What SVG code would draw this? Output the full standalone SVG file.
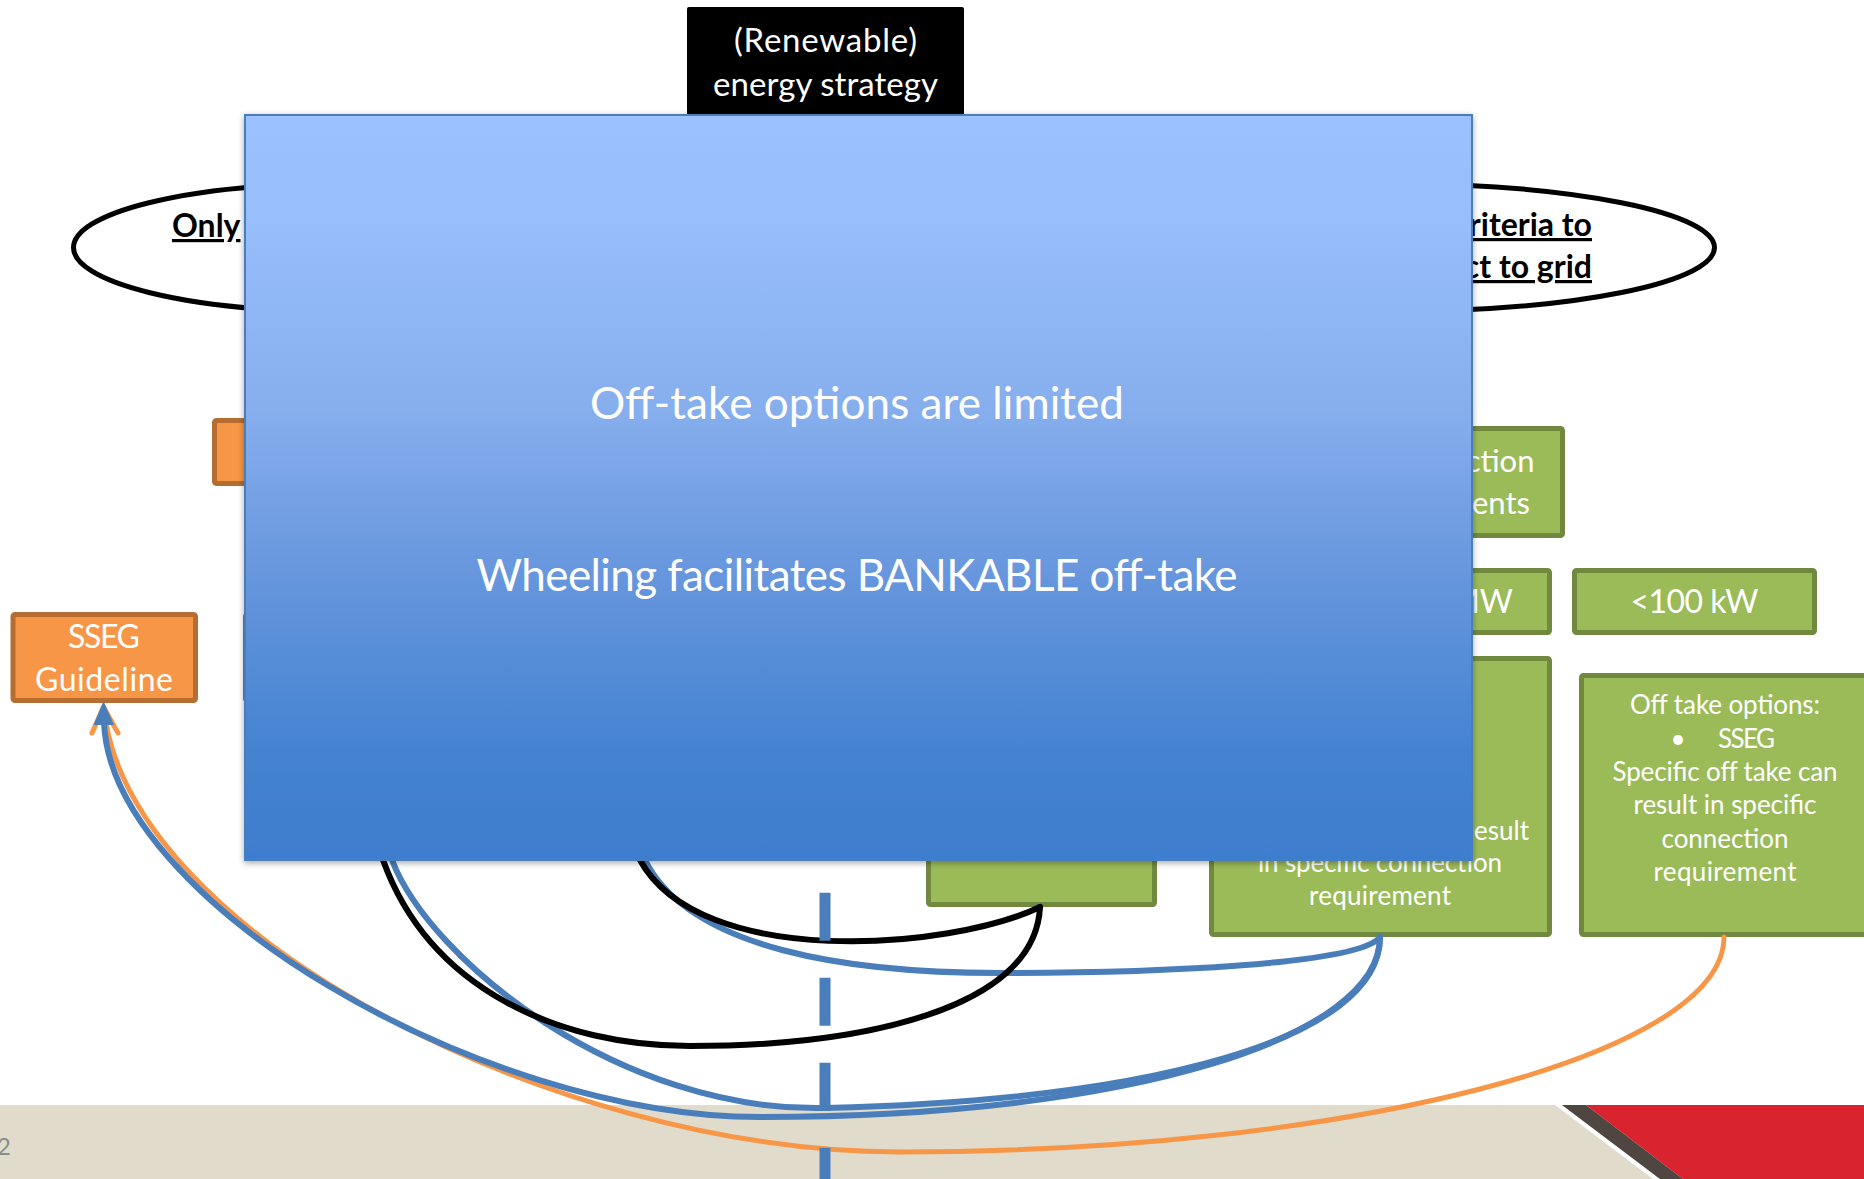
<svg xmlns="http://www.w3.org/2000/svg" width="1864" height="1179" viewBox="0 0 1864 1179">
<defs>
  <linearGradient id="blueGrad" x1="0" y1="0" x2="0" y2="1">
    <stop offset="0" stop-color="#9BC1FE"/>
    <stop offset="0.15" stop-color="#97BDFB"/>
    <stop offset="0.4" stop-color="#86AEED"/>
    <stop offset="0.62" stop-color="#6696DD"/>
    <stop offset="0.85" stop-color="#4583D1"/>
    <stop offset="1" stop-color="#3E7DCD"/>
  </linearGradient>
  <filter id="shadow" x="-5%" y="-5%" width="110%" height="110%">
    <feDropShadow dx="0" dy="2" stdDeviation="3" flood-color="#000" flood-opacity="0.35"/>
  </filter>
</defs>
<style>
  text { font-family: Lato, "Liberation Sans", sans-serif; }
  .w { fill: #FFFFFF; }
  .green { fill: #9BBB59; stroke: #71893F; stroke-width: 5; }
  .orange { fill: #F79646; stroke: #B66D31; stroke-width: 5; }
  .ell { fill: none; stroke: #000; stroke-width: 5; }
  .bold { font-weight: bold; fill: #000; text-decoration: underline; }
  .c { text-anchor: middle; }
  .e { text-anchor: end; }
  .conn { fill: none; stroke-linecap: round; }
  .blk { stroke: #000; stroke-width: 6; }
  .blu { stroke: #4A7EBB; stroke-width: 6; }
  .org { stroke: #F79646; stroke-width: 5; }
</style>

<rect x="0" y="0" width="1864" height="1179" fill="#FFFFFF"/>

<g id="footer">
  <rect x="0" y="1105" width="1864" height="74" fill="#E0DBCA"/>
  <polygon points="1555,1105 1562,1105 1660,1179 1653,1179" fill="#FFFFFF"/>
  <polygon points="1562,1105 1586,1105 1683,1179 1660,1179" fill="#4F4641"/>
  <polygon points="1586,1105 1864,1105 1864,1179 1683,1179" fill="#D9232F"/>
  <text x="11" y="1155" class="e" font-size="24" fill="#8C8C8C">2</text>
</g>

<g id="ellipse-left">
  <ellipse class="ell" cx="331" cy="247.6" rx="257.5" ry="63.5"/>
  <text x="172" y="237" class="bold" font-size="32">Only</text>
</g>
<g id="ellipse-right">
  <ellipse class="ell" cx="1397" cy="247.6" rx="317.5" ry="63.5"/>
  <text x="1592" y="236" class="bold e" font-size="32">riteria to</text>
  <text x="1592" y="278" class="bold e" font-size="32">ct to grid</text>
</g>

<g id="energy-strategy">
  <rect x="687" y="7" width="277" height="125" rx="2" fill="#000"/>
  <text x="825.5" y="52" class="w c" font-size="33" textLength="183">(Renewable)</text>
  <text x="825.5" y="96" class="w c" font-size="33" textLength="225">energy strategy</text>
</g>

<g id="orange-top">
  <rect class="orange" x="214.5" y="420.5" width="83" height="63" rx="2"/>
</g>
<g id="sseg-guideline">
  <rect class="orange" x="13" y="614.5" width="182.5" height="86" rx="2"/>
  <text x="104" y="648" class="w c" font-size="32" textLength="72">SSEG</text>
  <text x="104" y="691" class="w c" font-size="32" textLength="138">Guideline</text>
</g>
<g id="orange-mid">
  <rect class="orange" x="245.5" y="614.5" width="150" height="86" rx="2"/>
</g>

<g id="connection-requirements">
  <rect class="green" x="1152.5" y="428.5" width="410" height="107" rx="2"/>
  <text x="1534.5" y="472" class="w e" font-size="31">ction</text>
  <text x="1530" y="513.6" class="w e" font-size="31">ents</text>
</g>
<g id="mw-box">
  <rect class="green" x="1252.5" y="570.5" width="297" height="62" rx="2"/>
  <text x="1513" y="613" class="w e" font-size="32">MW</text>
</g>
<g id="kw-box">
  <rect class="green" x="1574.5" y="570.5" width="240" height="62" rx="2"/>
  <text x="1694.5" y="613" class="w c" font-size="32" textLength="128">&lt;100 kW</text>
</g>
<g id="mw-options">
  <rect class="green" x="1211.5" y="658.5" width="338" height="276" rx="2"/>
  <text x="1529" y="840" class="w e" font-size="26">esult</text>
  <text x="1380" y="872" class="w c" font-size="26" textLength="244">in specific connection</text>
  <text x="1380" y="905" class="w c" font-size="26" textLength="142">requirement</text>
</g>
<g id="kw-options">
  <rect class="green" x="1581.5" y="675.5" width="287" height="259" rx="2"/>
  <text x="1725" y="714" class="w c" font-size="26" textLength="190">Off take options:</text>
  <text x="1678" y="748" class="w c" font-size="26">•</text>
  <text x="1718" y="748" class="w" font-size="26" textLength="57">SSEG</text>
  <text x="1725" y="781" class="w c" font-size="26" textLength="225">Specific off take can</text>
  <text x="1725" y="814" class="w c" font-size="26" textLength="183">result in specific</text>
  <text x="1725" y="848" class="w c" font-size="26" textLength="127">connection</text>
  <text x="1725" y="881" class="w c" font-size="26" textLength="143">requirement</text>
</g>
<g id="small-green">
  <rect class="green" x="928.5" y="702.5" width="226" height="202" rx="2"/>
</g>

<g id="connectors">
  <path class="conn org" d="M1724,937 C1724,1057 1343,1152 900,1152 C550,1152 125,930 104,708"/>
  <polyline class="conn org" points="92,733 103.5,707 118,733"/>
  <path class="conn blu" d="M1380,937 C1380,1037 1133,1117 760,1117 C480,1117 110,900 104,722"/>
  <polygon points="103.5,701 93.5,725 114,725" fill="#4A7EBB"/>
  <path class="conn blu" d="M392,860 C430,960 620,1113 826,1108 C1150,1100 1380,1040 1380,937"/>
  <path class="conn blu" d="M645,860 C690,950 850,973 1000,973 C1150,973 1360,965 1380,937"/>
  <path class="conn blk" d="M383,860 C430,990 560,1046 690,1046 C860,1046 1035,1010 1040,907"/>
  <path class="conn blk" d="M640,860 C700,970 950,950 1040,907"/>
  <line x1="825" y1="892.7" x2="825" y2="1179" stroke="#4A7EBB" stroke-width="11" stroke-dasharray="48 37"/>
</g>

<g id="overlay">
  <rect x="245" y="115" width="1227" height="745" fill="url(#blueGrad)" stroke="#4A7EBB" stroke-width="2" filter="url(#shadow)"/>
  <text x="857" y="419" class="w c" font-size="44" textLength="534">Off-take options are limited</text>
  <text x="857" y="591" class="w c" font-size="44" textLength="761">Wheeling facilitates BANKABLE off-take</text>
</g>
</svg>
